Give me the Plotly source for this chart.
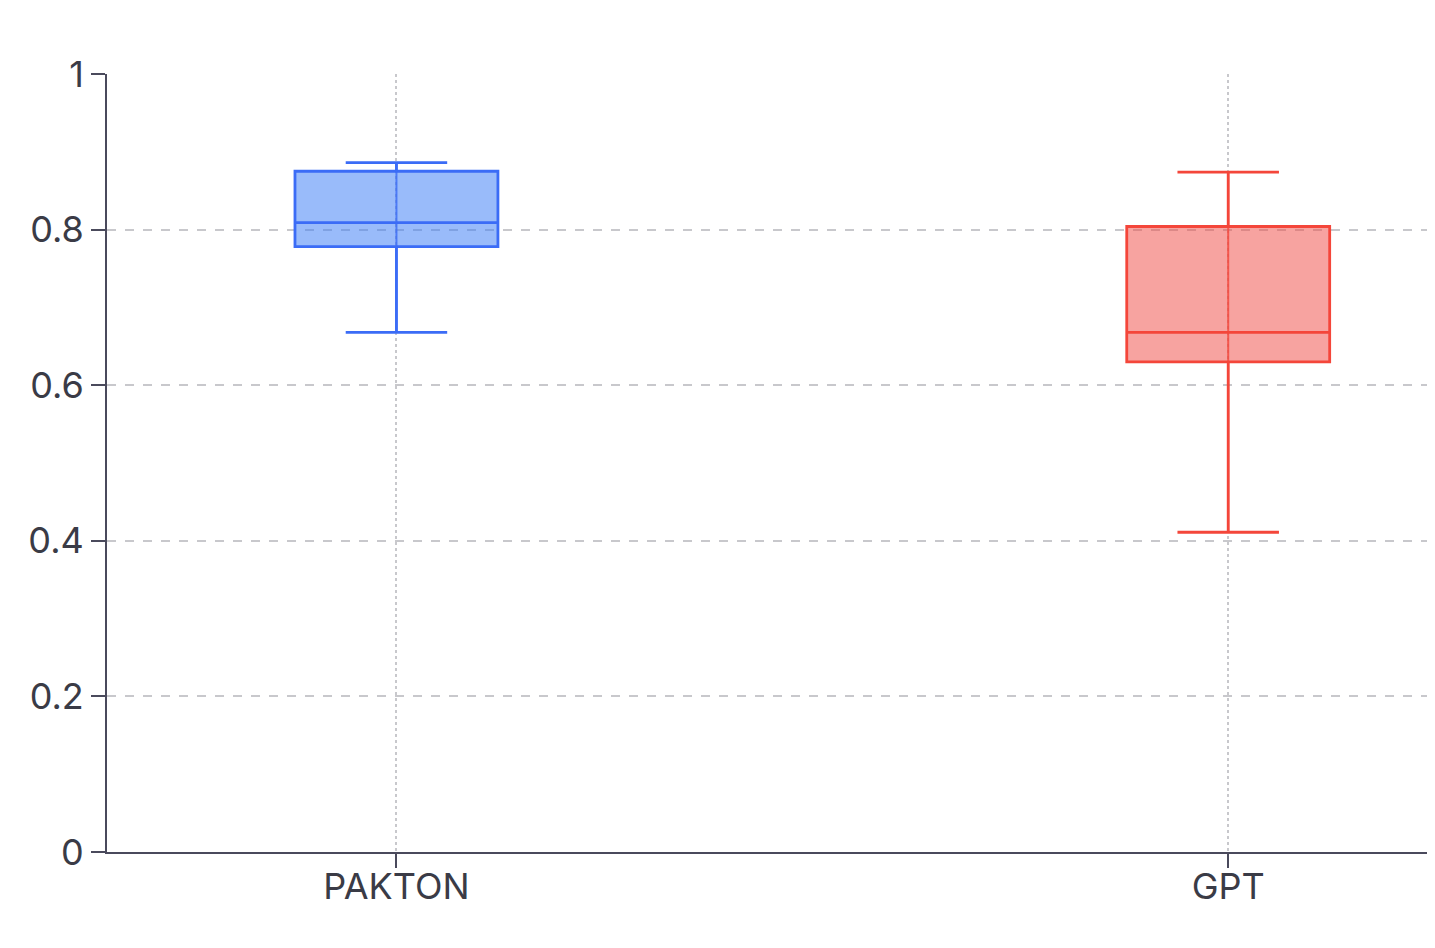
import plotly.graph_objects as go

models = ['PAKTON', 'GPT']
lower_fence = [0.668, 0.411]
q1 = [0.778, 0.630]
median = [0.809, 0.668]
q3 = [0.875, 0.804]
upper_fence = [0.886, 0.874]

line_colors = ['rgb(59,108,246)', 'rgb(244,70,58)']
fill_colors = ['rgba(59,125,246,0.52)', 'rgba(240,72,66,0.5)']

fig = go.Figure()
for i, name in enumerate(models):
    fig.add_trace(go.Box(
        x=[name],
        q1=[q1[i]],
        median=[median[i]],
        q3=[q3[i]],
        lowerfence=[lower_fence[i]],
        upperfence=[upper_fence[i]],
        name=name,
        width=0.244,
        whiskerwidth=0.5,
        line=dict(color=line_colors[i], width=2.8),
        fillcolor=fill_colors[i],
        boxpoints=False,
        hoverinfo='skip',
    ))
    # whisker line visible through the box
    fig.add_trace(go.Scatter(
        x=[name, name],
        y=[lower_fence[i], upper_fence[i]],
        mode='lines',
        line=dict(color=line_colors[i], width=2),
        opacity=0.8,
        hoverinfo='skip',
    ))

fig.update_layout(
    width=1419,
    height=932,
    margin=dict(l=99, r=0, t=66, b=88),
    plot_bgcolor='white',
    paper_bgcolor='white',
    showlegend=False,
    font=dict(family='Inter, Noto Sans, sans-serif', size=36, color='#3a3b46'),
)
fig.update_xaxes(
    type='category',
    categoryorder='array',
    categoryarray=models,
    range=[-0.348, 1.239],
    showline=True, linecolor='#4a4a5c', linewidth=2,
    ticks='outside', ticklen=14, tickcolor='#4a4a5c', tickwidth=2,
    ticklabelstandoff=-12,
    showgrid=True, gridcolor='#c8c8cc', griddash='dot', gridwidth=1.5,
    zeroline=False,
)
fig.update_yaxes(
    range=[0, 1],
    tickvals=[0, 0.2, 0.4, 0.6, 0.8, 1],
    ticktext=['0', '0.2', '0.4', '0.6', '0.8', '1'],
    showline=True, linecolor='#4a4a5c', linewidth=2,
    ticks='outside', ticklen=14, tickcolor='#4a4a5c', tickwidth=2,
    showgrid=True, gridcolor='#c8c8cc', griddash='dash', gridwidth=1.5,
    zeroline=False,
)

fig.write_html("out.html")
